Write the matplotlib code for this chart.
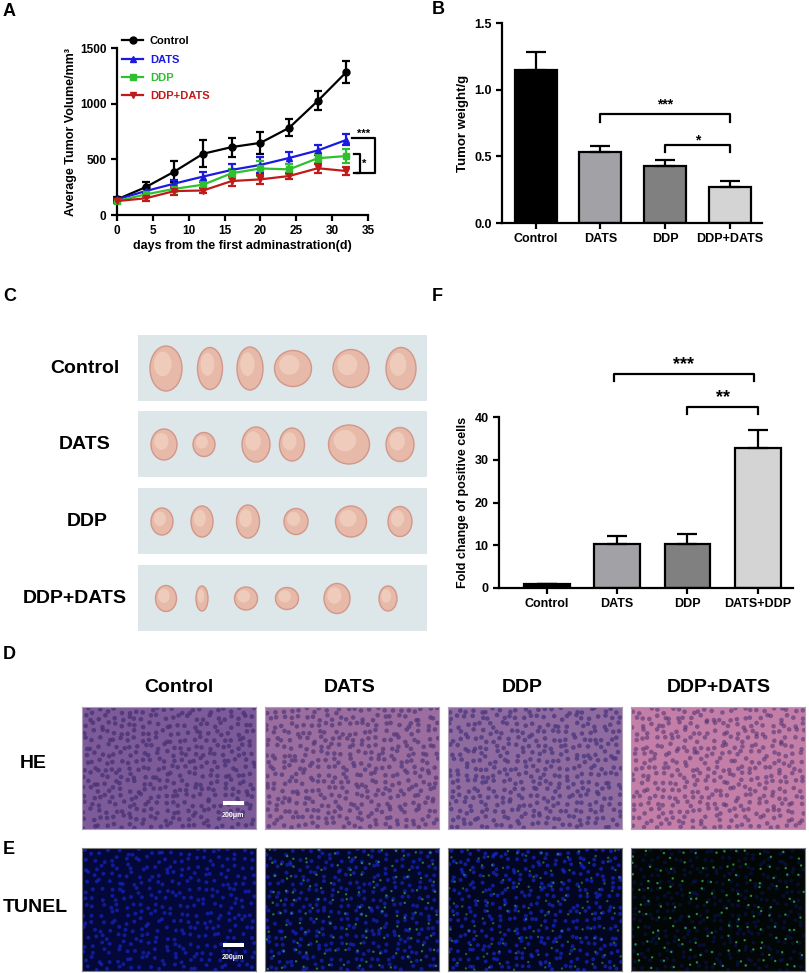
"""Tumour growth, tumour weight, tumour photos and HE / TUNEL staining panels."""

import numpy as np
import matplotlib
matplotlib.use("Agg")
import matplotlib.pyplot as plt
from matplotlib.patches import Ellipse, Rectangle

plt.rcParams["font.family"] = ["Liberation Sans", "DejaVu Sans"]
plt.rcParams["font.weight"] = "bold"
plt.rcParams["axes.labelweight"] = "bold"
plt.rcParams["axes.linewidth"] = 1.6
plt.rcParams["xtick.major.width"] = 1.6
plt.rcParams["ytick.major.width"] = 1.6
plt.rcParams["xtick.major.size"] = 4
plt.rcParams["ytick.major.size"] = 4

FIG_W, FIG_H = 809, 973

# panel A: average tumour volume (mm^3)
days = [0, 4, 8, 12, 16, 20, 24, 28, 32]
groups_a = ["Control", "DATS", "DDP", "DDP+DATS"]
volume_control = [140, 250, 390, 550, 610, 648, 783, 1025, 1285]
volume_control_err = [20, 50, 95, 120, 85, 100, 75, 85, 100]
volume_dats = [140, 215, 282, 345, 405, 450, 512, 580, 675]
volume_dats_err = [15, 30, 35, 45, 50, 70, 55, 45, 50]
volume_ddp = [125, 185, 235, 272, 375, 418, 410, 510, 530]
volume_ddp_err = [15, 25, 30, 30, 40, 70, 45, 40, 60]
volume_combo = [125, 150, 215, 220, 305, 320, 350, 420, 395]
volume_combo_err = [15, 20, 35, 25, 45, 40, 25, 40, 40]
line_colors = ["#000000", "#1a1ae0", "#2fc02f", "#c01a1a"]
line_markers = ["o", "^", "s", "v"]

# panel B: tumour weight (g)
groups_b = ["Control", "DATS", "DDP", "DDP+DATS"]
weight = [1.145, 0.53, 0.425, 0.272]
weight_err = [0.135, 0.05, 0.047, 0.04]

# panel F: fold change of TUNEL positive cells
groups_f = ["Control", "DATS", "DDP", "DATS+DDP"]
fold = [1.0, 10.2, 10.2, 32.7]
fold_err = [0.0, 1.9, 2.5, 4.3]

bar_colors = ["#000000", "#a2a2a6", "#808080", "#d4d4d4"]

# panel C: tumour photos (centre x, width, height in px per row)
photo_rows = ["Control", "DATS", "DDP", "DDP+DATS"]
tumor_x = [
    [166, 210, 250, 293, 351, 401],
    [164, 204, 256, 292, 349, 400],
    [162, 202, 248, 296, 351, 400],
    [166, 202, 246, 287, 337, 388],
]
tumor_w = [
    [32, 25, 26, 37, 36, 30],
    [26, 22, 28, 25, 41, 28],
    [22, 22, 23, 24, 31, 24],
    [21, 12, 23, 23, 26, 18],
]
tumor_h = [
    [45, 42, 43, 36, 38, 42],
    [31, 24, 35, 33, 39, 34],
    [27, 31, 33, 26, 31, 30],
    [26, 25, 23, 22, 30, 25],
]

# panels D / E: staining images
stain_cols = ["Control", "DATS", "DDP", "DDP+DATS"]
he_colors = ["#7d5b98", "#9b6e9f", "#8f6ba0", "#c47fa9"]
he_nuclei = ["#4a3378", "#5a3d7e", "#4f3a80", "#4b2f6e"]
tunel_colors = ["#040838", "#040828", "#030620", "#020604"]
tunel_blue = [0.55, 0.55, 0.6, 0.2]
tunel_green = [0.0, 0.25, 0.15, 0.35]


def px_axes(fig, left, top, right, bottom):
    return fig.add_axes([left / FIG_W, 1 - bottom / FIG_H,
                         (right - left) / FIG_W, (bottom - top) / FIG_H])


def style_axes(ax):
    ax.spines["top"].set_visible(False)
    ax.spines["right"].set_visible(False)
    for lab in ax.get_xticklabels() + ax.get_yticklabels():
        lab.set_fontweight("bold")


def bracket(ax, x0, x1, y, drop, star, star_y, size):
    ax.plot([x0, x0, x1, x1], [y - drop, y, y, y - drop], color="black",
            lw=1.6, clip_on=False)
    ax.text((x0 + x1) / 2, star_y, star, ha="center", va="center",
            fontsize=size, fontweight="bold")


def lattice(n_x, n_y, seed):
    # cell-like lattice with deterministic jitter (photo texture only)
    ii, jj = np.meshgrid(np.arange(n_x), np.arange(n_y))
    ii = ii.ravel().astype(float)
    jj = jj.ravel().astype(float)
    jx = np.sin(ii * 12.9898 + jj * 78.233 + seed) * 43758.5453
    jy = np.sin(ii * 39.346 + jj * 11.135 + seed) * 24634.6345
    xs = (ii + 0.5 + 0.8 * (jx - np.floor(jx) - 0.5)) / n_x
    ys = (jj + 0.5 + 0.8 * (jy - np.floor(jy) - 0.5)) / n_y
    return xs, ys


fig = plt.figure(figsize=(FIG_W / 100, FIG_H / 100), dpi=100)

# ---------------- panel A
ax_a = px_axes(fig, 117, 48, 368, 215)
series = [(volume_control, volume_control_err), (volume_dats, volume_dats_err),
          (volume_ddp, volume_ddp_err), (volume_combo, volume_combo_err)]
for (vals, errs), name, col, mk in zip(series, groups_a, line_colors, line_markers):
    ax_a.errorbar(days, vals, yerr=errs, fmt="none", ecolor=col, elinewidth=1.6,
                  capsize=3, capthick=1.6, clip_on=False, zorder=3)
    ax_a.plot(days, vals, color=col, marker=mk, ms=5, lw=1.6, label=name,
              clip_on=False, zorder=4)
ax_a.set_xlim(0, 35)
ax_a.set_ylim(0, 1500)
ax_a.set_xticks([0, 5, 10, 15, 20, 25, 30, 35])
ax_a.set_yticks([0, 500, 1000, 1500])
ax_a.tick_params(labelsize=8.5)
ax_a.set_xlabel("days from the first adminastration(d)", fontsize=9, labelpad=2)
ax_a.set_ylabel("Average Tumor Volume/mm³", fontsize=9, labelpad=2)
leg = ax_a.legend(loc="upper left", bbox_to_anchor=(0.02, 1.07), frameon=False,
                  fontsize=8, handlelength=1.9, handletextpad=0.6,
                  labelspacing=0.75, borderpad=0, borderaxespad=0,
                  labelcolor="linecolor")
for t in leg.get_texts():
    t.set_fontweight("bold")
ax_a.plot([32.8, 36.0, 36.0, 33.5], [696, 696, 375, 375], color="black",
          lw=1.6, clip_on=False)
ax_a.plot([33.0, 33.95, 33.95, 33.0], [546, 546, 375, 375], color="black",
          lw=1.6, clip_on=False)
ax_a.text(34.4, 725, "***", ha="center", va="center", fontsize=8)
ax_a.text(34.5, 455, "*", ha="center", va="center", fontsize=8)
style_axes(ax_a)

# ---------------- panel B
ax_b = px_axes(fig, 502, 23, 762, 223)
xb = np.arange(len(groups_b))
ax_b.bar(xb, weight, width=0.65, color=bar_colors, edgecolor="black", lw=1.6,
         yerr=[[0] * len(weight), weight_err], capsize=7,
         error_kw={"elinewidth": 1.6, "capthick": 1.6})
ax_b.set_xlim(-0.52, 3.5)
ax_b.set_ylim(0, 1.5)
ax_b.set_yticks([0.0, 0.5, 1.0, 1.5])
ax_b.set_yticklabels(["0.0", "0.5", "1.0", "1.5"])
ax_b.set_xticks(xb)
ax_b.set_xticklabels(groups_b)
ax_b.tick_params(labelsize=9)
ax_b.set_ylabel("Tumor weight/g", fontsize=9.5, labelpad=4)
bracket(ax_b, 1, 3, 0.815, 0.055, "***", 0.89, 10)
bracket(ax_b, 2, 3, 0.584, 0.05, "*", 0.62, 10)
style_axes(ax_b)

# ---------------- panel F
ax_f = px_axes(fig, 499, 417, 793, 588)
xf = np.arange(len(groups_f))
ax_f.bar(xf, fold, width=0.65, color=bar_colors, edgecolor="black", lw=1.6,
         yerr=[[0] * len(fold), fold_err], capsize=7,
         error_kw={"elinewidth": 1.6, "capthick": 1.6})
ax_f.set_xlim(-0.68, 3.5)
ax_f.set_ylim(0, 40)
ax_f.set_yticks([0, 10, 20, 30, 40])
ax_f.set_xticks(xf)
ax_f.set_xticklabels(groups_f)
ax_f.tick_params(labelsize=9)
ax_f.set_ylabel("Fold change of positive cells", fontsize=9, labelpad=4)
bracket(ax_f, 0.95, 2.95, 50.0, 1.6, "***", 52.3, 13)
bracket(ax_f, 2.0, 3.0, 42.4, 1.8, "**", 44.5, 13)
style_axes(ax_f)

# ---------------- panel C (tumour photos)
strip_tops = [335, 411, 488, 565]
strip_h = 67
ax_c = px_axes(fig, 138, 335, 427, 632)
ax_c.set_xlim(138, 427)
ax_c.set_ylim(632, 335)
ax_c.axis("off")
for r, top in enumerate(strip_tops):
    ax_c.add_patch(Rectangle((138, top), 289, strip_h - 1, facecolor="#dde6e8",
                             edgecolor="none"))
    cy = top + strip_h / 2
    for cx, w, h in zip(tumor_x[r], tumor_w[r], tumor_h[r]):
        ax_c.add_patch(Ellipse((cx, cy), w, h, facecolor="#e7b9a8",
                               edgecolor="#d2978a", lw=1.0))
        ax_c.add_patch(Ellipse((cx - w * 0.1, cy - h * 0.1), w * 0.55, h * 0.55,
                               facecolor="#efcbbb", edgecolor="none"))
row_label_x = [85, 85, 87, 75]
for r, name in enumerate(photo_rows):
    fig.text(row_label_x[r] / FIG_W, 1 - (strip_tops[r] + strip_h / 2) / FIG_H,
             name, ha="center", va="center", fontsize=14, fontweight="bold")

# ---------------- panels D / E (staining)
img_left = [82, 265, 448, 631]
img_w = 174
he_top, he_bot = 707, 829
tu_top, tu_bot = 848, 971
header_x = [179, 350, 522, 719]
for k, name in enumerate(stain_cols):
    fig.text(header_x[k] / FIG_W, 1 - 687 / FIG_H, name, ha="center",
             va="center", fontsize=14, fontweight="bold")

    ax_he = px_axes(fig, img_left[k], he_top, img_left[k] + img_w, he_bot)
    ax_he.set_facecolor(he_colors[k])
    xs, ys = lattice(24, 17, k)
    ax_he.scatter(xs, ys, s=11, color=he_nuclei[k], alpha=0.55 if k == 3 else 0.8,
                  edgecolors="none")
    ax_he.set_xlim(0, 1)
    ax_he.set_ylim(0, 1)
    ax_he.set_xticks([])
    ax_he.set_yticks([])
    for s in ax_he.spines.values():
        s.set_edgecolor("#b0a0b8")
        s.set_linewidth(0.8)

    ax_tu = px_axes(fig, img_left[k], tu_top, img_left[k] + img_w, tu_bot)
    ax_tu.set_facecolor(tunel_colors[k])
    xs, ys = lattice(22, 16, k + 7)
    ax_tu.scatter(xs, ys, s=8, color="#1a2ce8", alpha=tunel_blue[k],
                  edgecolors="none")
    if tunel_green[k] > 0:
        gx, gy = lattice(14, 10, k + 19)
        ax_tu.scatter(gx, gy, s=3, color="#3fd060", alpha=tunel_green[k] + 0.3,
                      edgecolors="none")
    ax_tu.set_xlim(0, 1)
    ax_tu.set_ylim(0, 1)
    ax_tu.set_xticks([])
    ax_tu.set_yticks([])
    for s in ax_tu.spines.values():
        s.set_edgecolor("#808080")
        s.set_linewidth(0.8)

    if k == 0:
        for ax_img in (ax_he, ax_tu):
            ax_img.add_patch(Rectangle((0.81, 0.195), 0.12, 0.035,
                                       transform=ax_img.transAxes,
                                       facecolor="white", edgecolor="none"))
            ax_img.text(0.87, 0.11, "200μm", transform=ax_img.transAxes,
                        ha="center", va="center", fontsize=5, color="white")

fig.text(33 / FIG_W, 1 - 763 / FIG_H, "HE", ha="center", va="center",
         fontsize=14, fontweight="bold")
fig.text(35 / FIG_W, 1 - 908 / FIG_H, "TUNEL", ha="center", va="center",
         fontsize=14, fontweight="bold")

# panel letters
for letter, x, y in [("A", 3, 3), ("B", 432, 1), ("C", 3, 288), ("F", 432, 288),
                     ("D", 3, 646), ("E", 3, 841)]:
    fig.text(x / FIG_W, 1 - y / FIG_H, letter, ha="left", va="top",
             fontsize=13, fontweight="bold")

fig.savefig("out.png", dpi=100)
plt.close(fig)
